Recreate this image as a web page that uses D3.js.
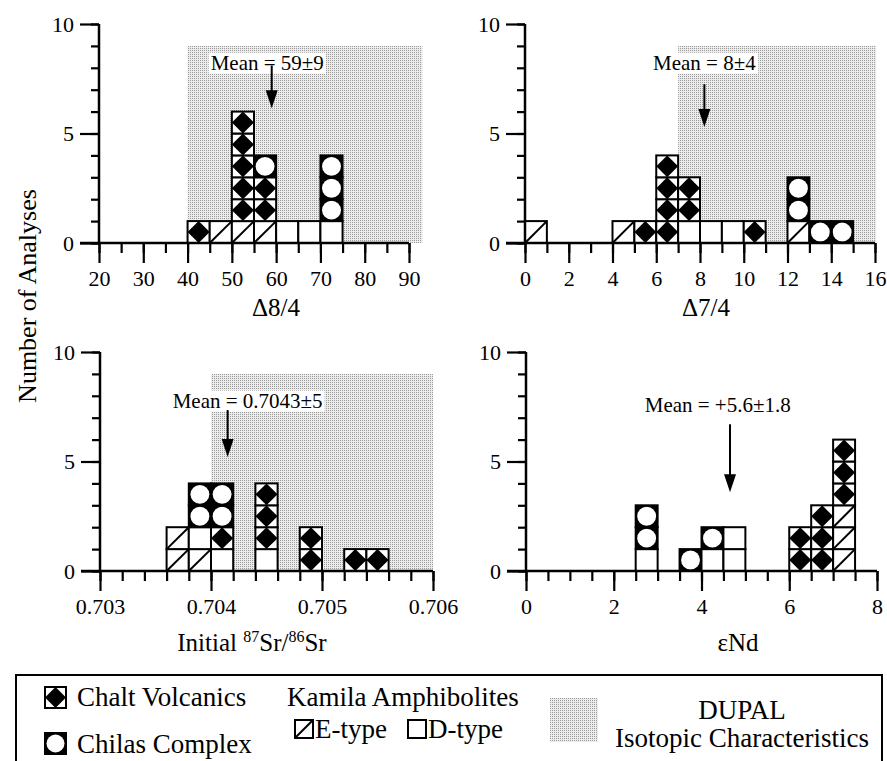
<!DOCTYPE html>
<html>
<head>
<meta charset="utf-8">
<script src="https://cdn.jsdelivr.net/npm/d3@7"></script>
<style>
body { margin: 0; background: #fff; }
text { font-family: 'Liberation Serif', 'Times New Roman', Times, serif !important; fill: #000; }
</style>
</head>
<body>
<div id="chart"></div>
<script>
// counts per histogram bin (lower bin edge), stacked bottom-up:
// Kamila E-type, Kamila D-type, Chalt Volcanics, Chilas Complex
var d84Bins   = [40, 45, 50, 55, 60, 65, 70];
var d84EType  = [0, 1, 1, 1, 0, 0, 0];
var d84DType  = [0, 0, 0, 0, 1, 1, 1];
var d84Chalt  = [1, 0, 5, 2, 0, 0, 0];
var d84Chilas = [0, 0, 0, 1, 0, 0, 3];
var d84Ticks  = [20, 30, 40, 50, 60, 70, 80, 90];

var d74Bins   = [0, 4, 5, 6, 7, 8, 9, 10, 12, 13, 14];
var d74EType  = [1, 1, 0, 0, 0, 0, 0, 0, 1, 0, 0];
var d74DType  = [0, 0, 0, 0, 1, 1, 1, 0, 0, 0, 0];
var d74Chalt  = [0, 0, 1, 4, 2, 0, 0, 1, 0, 0, 0];
var d74Chilas = [0, 0, 0, 0, 0, 0, 0, 0, 2, 1, 1];
var d74Ticks  = [0, 2, 4, 6, 8, 10, 12, 14, 16];

var srBins   = [0.7036, 0.7038, 0.7040, 0.7044, 0.7048, 0.7052, 0.7054];
var srEType  = [2, 1, 0, 0, 0, 0, 0];
var srDType  = [0, 1, 1, 1, 0, 0, 0];
var srChalt  = [0, 0, 1, 3, 2, 1, 1];
var srChilas = [0, 2, 2, 0, 0, 0, 0];
var srTicks  = [0.703, 0.704, 0.705, 0.706];

var ndBins   = [2.5, 3.5, 4.0, 4.5, 6.0, 6.5, 7.0];
var ndEType  = [0, 0, 0, 0, 0, 0, 3];
var ndDType  = [1, 0, 1, 2, 0, 0, 0];
var ndChalt  = [0, 0, 0, 0, 2, 3, 3];
var ndChilas = [2, 1, 1, 0, 0, 0, 0];
var ndTicks  = [0, 2, 4, 6, 8];

var countTicks = [0, 5, 10];
var meanLabels = ["Mean = 59\u00b19", "Mean = 8\u00b14", "Mean = 0.7043\u00b15", "Mean = +5.6\u00b11.8"];
var meanArrowAt = [59, 8.2, 0.70415, 4.65];

var W = 887, H = 761;
var serif = "'Liberation Serif', 'Times New Roman', Times, serif";

var svg = d3.select("#chart").append("svg")
    .attr("width", W)
    .attr("height", H)
    .attr("font-family", serif);

// DUPAL stipple
var pat = svg.append("defs").append("pattern")
    .attr("id", "dupal")
    .attr("width", 2).attr("height", 2)
    .attr("patternUnits", "userSpaceOnUse");
pat.append("rect").attr("width", 2).attr("height", 2).attr("fill", "#ececec");
pat.append("rect").attr("width", 1).attr("height", 1).attr("fill", "#9a9a9a");

var panels = [
    {bins: d84Bins, step: 5, series: [d84EType, d84DType, d84Chalt, d84Chilas],
     domain: [20, 90], ticks: d84Ticks, minorStep: 5, fmt: d3.format("d"),
     left: 99, right: 409, bottom: 243, top: 24,
     dupal: [40, 93], mean: 0, textAt: [58, 8.25], arrow: [8.1, 6.15],
     title: "\u03948/4", titleX: 276, titleDy: 73},
    {bins: d74Bins, step: 1, series: [d74EType, d74DType, d74Chalt, d74Chilas],
     domain: [0, 16], ticks: d74Ticks, minorStep: 1, fmt: d3.format("d"),
     left: 525, right: 875, bottom: 243, top: 24,
     dupal: [7, 16.05], mean: 1, textAt: [8.2, 8.25], arrow: [7.25, 5.3],
     title: "\u03947/4", titleX: 706, titleDy: 73},
    {bins: srBins, step: 0.0002, series: [srEType, srDType, srChalt, srChilas],
     domain: [0.703, 0.706], ticks: srTicks, minorStep: 0.0002, fmt: d3.format(".3f"),
     left: 100, right: 433, bottom: 571, top: 352,
     dupal: [0.704, 0.706], mean: 2, textAt: [0.70433, 7.8], arrow: [7.35, 5.2],
     title: "sr", titleX: 252, titleDy: 80},
    {bins: ndBins, step: 0.5, series: [ndEType, ndDType, ndChalt, ndChilas],
     domain: [0, 8], ticks: ndTicks, minorStep: 0.5, fmt: d3.format("d"),
     left: 526, right: 877, bottom: 571, top: 352,
     dupal: null, mean: 3, textAt: [4.37, 7.6], arrow: [6.7, 3.6],
     title: "\u03b5Nd", titleX: 738, titleDy: 80}
];

var kinds = ["E", "D", "C", "H"];

function drawCell(g, x, y, w, h, kind) {
    var c = g.append("g");
    if (kind === "H") {
        c.append("rect").attr("x", x).attr("y", y).attr("width", w).attr("height", h)
            .attr("fill", "#000");
        c.append("circle").attr("cx", x + w / 2).attr("cy", y + h / 2)
            .attr("r", Math.min(w, h) / 2 - 1.5)
            .attr("fill", "#fff");
    } else {
        c.append("rect").attr("x", x).attr("y", y).attr("width", w).attr("height", h)
            .attr("fill", "#fff");
    }
    if (kind === "C") {
        c.append("path")
            .attr("d", "M" + (x + w / 2) + "," + y + "L" + (x + w) + "," + (y + h / 2) +
                "L" + (x + w / 2) + "," + (y + h) + "L" + x + "," + (y + h / 2) + "Z")
            .attr("fill", "#000");
    }
    if (kind === "E") {
        c.append("line")
            .attr("x1", x).attr("y1", y + h)
            .attr("x2", x + w).attr("y2", y)
            .attr("stroke", "#000").attr("stroke-width", 2);
    }
    c.append("rect").attr("x", x).attr("y", y).attr("width", w).attr("height", h)
        .attr("fill", "none").attr("stroke", "#000").attr("stroke-width", 2);
}

panels.forEach(function(p) {
    var g = svg.append("g");
    var x = d3.scaleLinear().domain(p.domain).range([p.left, p.right]);
    var y = d3.scaleLinear().domain([0, 10]).range([p.bottom, p.top]);

    // DUPAL field
    if (p.dupal) {
        g.append("rect")
            .attr("x", x(p.dupal[0]))
            .attr("y", y(9))
            .attr("width", x(p.dupal[1]) - x(p.dupal[0]))
            .attr("height", y(0) - y(9))
            .attr("fill", "url(#dupal)");
    }

    // mean label with white backing
    var mt = g.append("text")
        .attr("x", x(p.textAt[0]))
        .attr("y", y(p.textAt[1]))
        .attr("dy", "0.35em")
        .attr("text-anchor", "middle")
        .style("font-size", "21px")
        .text(meanLabels[p.mean]);
    var bb = mt.node().getBBox();
    g.insert("rect", "text")
        .attr("x", bb.x - 2).attr("y", bb.y + 2)
        .attr("width", bb.width + 4).attr("height", bb.height - 3)
        .attr("fill", "#fff");

    var ax = x(meanArrowAt[p.mean]);
    g.append("line")
        .attr("x1", ax).attr("x2", ax)
        .attr("y1", y(p.arrow[0])).attr("y2", y(p.arrow[1]) - 14)
        .attr("stroke", "#000").attr("stroke-width", 2);
    g.append("path")
        .attr("d", "M" + (ax - 6) + "," + (y(p.arrow[1]) - 18) + "L" + (ax + 6) + "," + (y(p.arrow[1]) - 18) +
            "L" + ax + "," + y(p.arrow[1]) + "Z")
        .attr("fill", "#000");

    // stacked cells
    p.bins.forEach(function(b, i) {
        var level = 0;
        p.series.forEach(function(s, k) {
            for (var n = 0; n < s[i]; n++) {
                var x0 = x(b), x1 = x(b + p.step);
                var yTop = y(level + 1), yBot = y(level);
                drawCell(g, x0, yTop, x1 - x0, yBot - yTop, kinds[k]);
                level++;
            }
        });
    });

    // axes
    var minor = d3.range(p.domain[0], p.domain[1] + p.minorStep / 2, p.minorStep);
    var xMinor = d3.axisBottom(x).tickValues(minor).tickSize(10).tickFormat("").tickSizeOuter(0);
    var xMajor = d3.axisBottom(x).tickValues(p.ticks).tickSize(20).tickPadding(7)
        .tickFormat(p.fmt).tickSizeOuter(0);
    var yMinor = d3.axisLeft(y).tickValues(d3.range(0, 11)).tickSize(8).tickFormat("").tickSizeOuter(0);
    var yMajor = d3.axisLeft(y).tickValues(countTicks).tickSize(19).tickPadding(6).tickSizeOuter(0);

    [xMinor, xMajor].forEach(function(a) {
        g.append("g").attr("class", "axis")
            .attr("transform", "translate(0," + p.bottom + ")")
            .call(a);
    });
    [yMinor, yMajor].forEach(function(a) {
        g.append("g").attr("class", "axis")
            .attr("transform", "translate(" + p.left + ",0)")
            .call(a);
    });
    g.selectAll(".axis").attr("font-family", serif);
    g.selectAll(".axis .domain").remove();
    g.selectAll(".axis line").attr("stroke", "#000").attr("stroke-width", 2.2);
    g.selectAll(".axis text")
        .attr("fill", "#000")
        .style("font-size", "22px");

    g.append("line")
        .attr("x1", p.left).attr("x2", p.left)
        .attr("y1", y(10)).attr("y2", y(0))
        .attr("stroke", "#000").attr("stroke-width", 2.5);
    g.append("line")
        .attr("x1", p.left - 19).attr("x2", p.right)
        .attr("y1", y(0)).attr("y2", y(0))
        .attr("stroke", "#000").attr("stroke-width", 2.5);

    // axis title
    var t = g.append("text")
        .attr("x", p.titleX)
        .attr("y", p.bottom + p.titleDy)
        .attr("text-anchor", "middle")
        .style("font-size", "25px");
    if (p.title === "sr") {
        t.append("tspan").text("Initial ");
        t.append("tspan").attr("dy", -9).style("font-size", "16px").text("87");
        t.append("tspan").attr("dy", 9).text("Sr/");
        t.append("tspan").attr("dy", -9).style("font-size", "16px").text("86");
        t.append("tspan").attr("dy", 9).text("Sr");
    } else {
        t.text(p.title);
    }
});

svg.append("text")
    .attr("transform", "translate(36,296) rotate(-90)")
    .attr("text-anchor", "middle")
    .style("font-size", "26px")
    .text("Number of Analyses");

// legend
var lg = svg.append("g");
lg.append("rect")
    .attr("x", 16).attr("y", 675)
    .attr("width", 866).attr("height", 100)
    .attr("fill", "none").attr("stroke", "#000").attr("stroke-width", 2);

var fs = "27px";
drawCell(lg, 45, 687, 21, 21, "C");
lg.append("text").attr("x", 77).attr("y", 706).style("font-size", fs).text("Chalt Volcanics");
drawCell(lg, 45, 733, 21, 21, "H");
lg.append("text").attr("x", 77).attr("y", 753).style("font-size", fs).text("Chilas Complex");

lg.append("text").attr("x", 287).attr("y", 706).style("font-size", fs).text("Kamila Amphibolites");
drawCell(lg, 295, 720, 18, 18, "E");
lg.append("text").attr("x", 315).attr("y", 738).style("font-size", fs).text("E-type");
drawCell(lg, 408, 720, 18, 18, "D");
lg.append("text").attr("x", 428).attr("y", 738).style("font-size", fs).text("D-type");

lg.append("rect")
    .attr("x", 550).attr("y", 698)
    .attr("width", 48).attr("height", 44)
    .attr("fill", "url(#dupal)");
lg.append("text").attr("x", 742).attr("y", 719).attr("text-anchor", "middle")
    .style("font-size", fs).text("DUPAL");
lg.append("text").attr("x", 742).attr("y", 747).attr("text-anchor", "middle")
    .style("font-size", fs).text("Isotopic Characteristics");
</script>
</body>
</html>
